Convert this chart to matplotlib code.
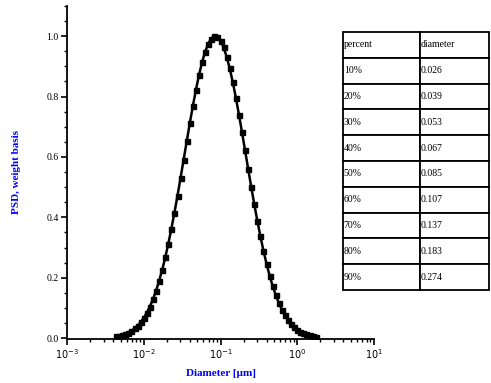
import numpy as np
import matplotlib
matplotlib.use("Agg")
import matplotlib.pyplot as plt
from matplotlib.ticker import LogLocator, MultipleLocator, NullFormatter

# log10 of diameter (um) and normalized PSD
log_diam = [-2.36, -2.32, -2.28, -2.24, -2.20, -2.16, -2.12, -2.08, -2.04, -2.00,
            -1.96, -1.92, -1.88, -1.84, -1.80, -1.76, -1.72, -1.68, -1.64, -1.60,
            -1.56, -1.52, -1.48, -1.44, -1.40, -1.36, -1.32, -1.28, -1.24, -1.20,
            -1.16, -1.12, -1.08, -1.04, -1.00, -0.96, -0.92, -0.88, -0.84, -0.80,
            -0.76, -0.72, -0.68, -0.64, -0.60, -0.56, -0.52, -0.48, -0.44, -0.40,
            -0.36, -0.32, -0.28, -0.24, -0.20, -0.16, -0.12, -0.08, -0.04, 0.00,
            0.04, 0.08, 0.12, 0.16, 0.20, 0.24]
psd = [0.0055, 0.0076, 0.0103, 0.0139, 0.0185, 0.0244, 0.0319, 0.0413, 0.0529, 0.0670,
       0.0841, 0.1046, 0.1287, 0.1568, 0.1891, 0.2259, 0.2671, 0.3126, 0.3623, 0.4157,
       0.4723, 0.5311, 0.5914, 0.6520, 0.7116, 0.7690, 0.8226, 0.8713, 0.9137, 0.9486,
       0.9750, 0.9922, 0.9997, 0.9972, 0.9848, 0.9629, 0.9321, 0.8933, 0.8476, 0.7963,
       0.7406, 0.6819, 0.6217, 0.5611, 0.5014, 0.4436, 0.3886, 0.3370, 0.2893, 0.2459,
       0.2069, 0.1724, 0.1422, 0.1162, 0.0939, 0.0752, 0.0596, 0.0468, 0.0363, 0.0279,
       0.0213, 0.0160, 0.0120, 0.0088, 0.0065, 0.0047]

percent_labels = ["10%", "20%", "30%", "40%", "50%", "60%", "70%", "80%", "90%"]
diameters = ["0.026", "0.039", "0.053", "0.067", "0.085", "0.107", "0.137", "0.183", "0.274"]

y_ticks = [0.0, 0.2, 0.4, 0.6, 0.8, 1.0]
y_tick_labels = ["0.0", "0.2", "0.4", "0.6", "0.8", "1.0"]
x_ticks = [1e-3, 1e-2, 1e-1, 1e0, 1e1]
x_tick_labels = [r"$10^{-3}$", r"$10^{-2}$", r"$10^{-1}$", r"$10^{0}$", r"$10^{1}$"]

plt.rcParams['font.family'] = ['Liberation Serif', 'DejaVu Serif']
W, H = 491, 383
fig = plt.figure(figsize=(W / 100, H / 100), dpi=100)
ax = fig.add_axes([67 / W, 1 - 339 / H, (374 - 67) / W, (339 - 6) / H])

x = 10 ** np.array(log_diam)
ax.plot(x, psd, color="black", lw=1.8, marker="s", ms=3.6, mec="black", mfc="black")

ax.set_xscale("log")
ax.set_xlim(1e-3, 1e1)
ax.set_ylim(-0.003, 1.1)
ax.set_xticks(x_ticks)
ax.set_xticklabels(x_tick_labels)
ax.xaxis.set_minor_locator(LogLocator(base=10, subs=np.arange(2, 10)))
ax.xaxis.set_minor_formatter(NullFormatter())
ax.set_yticks(y_ticks)
ax.set_yticklabels(y_tick_labels)
ax.yaxis.set_minor_locator(MultipleLocator(0.05))

for s in ["top", "right"]:
    ax.spines[s].set_visible(False)
for s in ["left", "bottom"]:
    ax.spines[s].set_linewidth(1.3)
ax.tick_params(which="major", length=4, width=1.2, labelsize=7, direction="out", pad=2)
ax.tick_params(which="minor", length=2, width=1.0, direction="out")

ax.set_xlabel("Diameter [µm]", color="blue", fontsize=8, fontweight="bold", labelpad=6)
ax.set_ylabel("PSD, weight basis", color="blue", fontsize=8, fontweight="bold", labelpad=18)

# table
tax = fig.add_axes([343 / W, 1 - 290 / H, (489 - 343) / W, (290 - 32) / H])
tax.axis("off")
cells = [[p, d] for p, d in zip(percent_labels, diameters)]
tbl = tax.table(cellText=cells, colLabels=["percent", "diameter"],
                cellLoc="left", colLoc="left",
                colWidths=[77 / 146, 69 / 146], bbox=[0, 0, 1, 1])
tbl.auto_set_font_size(False)
tbl.set_fontsize(7)
for (r, c), cell in tbl.get_celld().items():
    cell.set_linewidth(1.3)
    cell.set_edgecolor("black")
    cell.PAD = 0.01
    cell.get_text().set_color("black")

fig.savefig("out.png", dpi=100)
